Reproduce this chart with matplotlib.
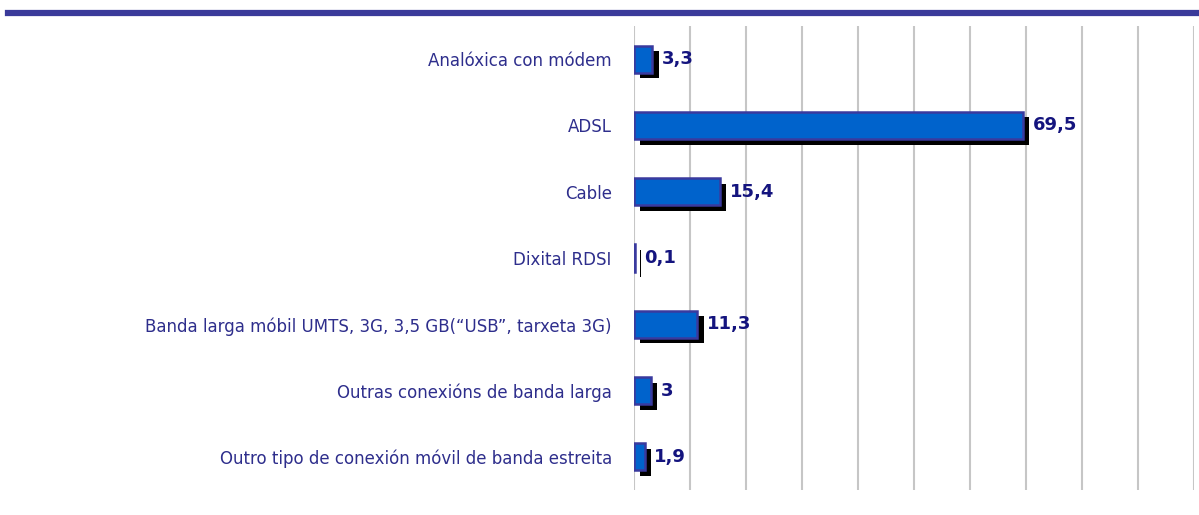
import matplotlib.pyplot as plt
import matplotlib.patheffects as pe
from matplotlib.lines import Line2D

categorias = [
    "Analóxica con módem",
    "ADSL",
    "Cable",
    "Dixital RDSI",
    "Banda larga móbil UMTS, 3G, 3,5 GB(“USB”, tarxeta 3G)",
    "Outras conexións de banda larga",
    "Outro tipo de conexión móvil de banda estreita",
]
valores = [3.3, 69.5, 15.4, 0.1, 11.3, 3, 1.9]
etiquetas = ["3,3", "69,5", "15,4", "0,1", "11,3", "3", "1,9"]

fig = plt.figure(figsize=(11.99, 5.15), dpi=100)
ax = fig.add_axes([634 / 1199, 1 - 490 / 515, 560 / 1199, 464 / 515])

y = list(range(len(categorias)))
bars = ax.barh(y, valores, height=0.41, color="#0063cc", edgecolor="#3a3a9e",
               linewidth=1.8, zorder=3)
for b in bars:
    b.set_path_effects([pe.SimplePatchShadow(offset=(4.5, -4), shadow_rgbFace="black", alpha=1),
                        pe.Normal()])

for yi, v, t in zip(y, valores, etiquetas):
    ax.annotate(t, (v, yi), xytext=(7, 0), textcoords="offset points",
                va="center", ha="left", fontsize=13, fontweight="bold",
                color="#14147e", zorder=4)

ax.set_xlim(0, 100)
ax.set_ylim(6.5, -0.5)
ax.set_xticks(range(0, 101, 10))
ax.xaxis.grid(True, color="#c6c6c6", linewidth=1.5, zorder=0)
ax.tick_params(axis="x", length=0, labelbottom=False)
ax.set_yticks(y)
ax.set_yticklabels(categorias, fontsize=12, color="#2e2e8c")
ax.tick_params(axis="y", length=0, pad=16)
for s in ax.spines.values():
    s.set_visible(False)

# liña superior
fig.add_artist(Line2D([8 / 1199, 1], [1 - 13 / 515] * 2, color="#3a3a9a", linewidth=4.5))

fig.savefig("out.png", dpi=100)
